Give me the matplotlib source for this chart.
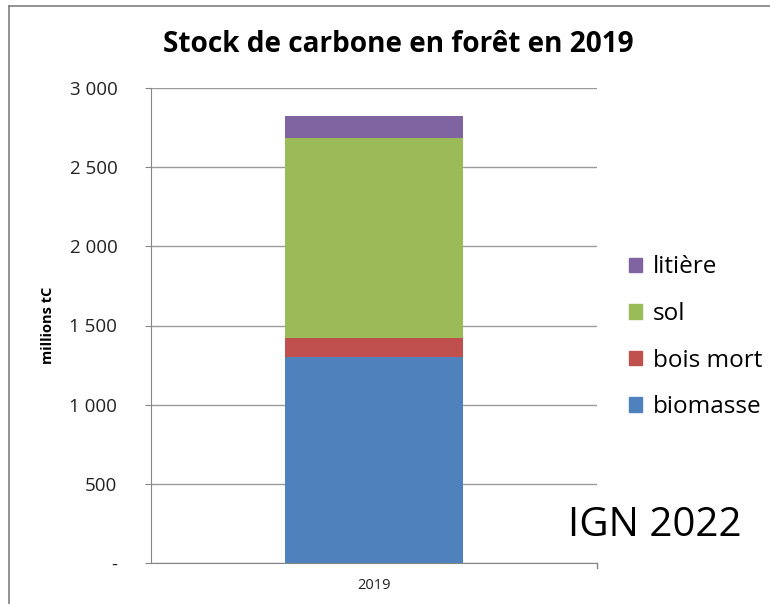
import matplotlib
matplotlib.use("Agg")
import matplotlib.pyplot as plt
from matplotlib.ticker import FuncFormatter, MultipleLocator
from matplotlib.lines import Line2D
from matplotlib.patches import Patch

plt.rcParams['font.family'] = ['Open Sans', 'DejaVu Sans']

years = ['2019']
components = ['biomasse', 'bois mort', 'sol', 'litière']
stocks = [1300, 122, 1265, 136]
colors = ['#4F81BD', '#C0504D', '#9BBB59', '#8064A2']

fig = plt.figure(figsize=(7.7, 6.04), dpi=100)
ax = fig.add_axes([151 / 770, 1 - 563 / 604, 446 / 770, 475 / 604])

bottom = 0
for name, val, col in zip(components, stocks, colors):
    ax.bar(0, val, width=0.4, bottom=bottom, color=col, label=name, zorder=3)
    bottom += val

ax.set_xlim(-0.5, 0.5)
ax.set_ylim(0, 3000)
ax.yaxis.set_major_locator(MultipleLocator(500))
ax.yaxis.set_major_formatter(FuncFormatter(
    lambda v, p: '-' if v == 0 else f'{int(v):,}'.replace(',', ' ')))
ax.set_xticks([0])
ax.set_xticklabels(years, fontsize=10.5)
ax.tick_params(axis='x', length=0, pad=11)
ax.tick_params(axis='y', length=4.3, color='#868686', labelsize=13.5, pad=20)
for t in ax.get_yticklabels():
    t.set_color('#222222')
for t in ax.get_xticklabels():
    t.set_color('#222222')

# category boundary tick on the x axis
ax.plot([0.5, 0.5], [0, -0.011], transform=ax.get_xaxis_transform(),
        color='#868686', lw=1, clip_on=False)

ax.grid(axis='y', color='#9a9a9a', lw=1, zorder=0)
for s in ['top', 'right']:
    ax.spines[s].set_visible(False)
for s in ['left', 'bottom']:
    ax.spines[s].set_color('#868686')

ax.set_ylabel('millions tC', fontsize=10.5, fontweight='bold')
ax.yaxis.set_label_coords(-0.215, 0.50)

fig.text(0.517, 0.926, 'Stock de carbone en forêt en 2019', ha='center', va='center',
         fontsize=20.2, fontweight='bold')

handles = [Patch(color=c, label=n) for n, c in zip(components, colors)][::-1]
fig.legend(handles=handles, loc='upper left', bbox_to_anchor=(0.817, 0.577),
           frameon=False, fontsize=17.5, handlelength=0.55, handleheight=0.55,
           handletextpad=0.42, labelspacing=0.93, borderpad=0, borderaxespad=0)

fig.text(0.85, 0.13, 'IGN 2022', ha='center', va='center', fontsize=29)

# outer frame of the screenshot
fig.add_artist(Line2D([9 / 770, 9 / 770], [0, 1 - 6 / 604], color='#808080', lw=1.2))
fig.add_artist(Line2D([9 / 770, 1], [1 - 6 / 604, 1 - 6 / 604], color='#808080', lw=1.2))

fig.savefig('out.png', dpi=100)
